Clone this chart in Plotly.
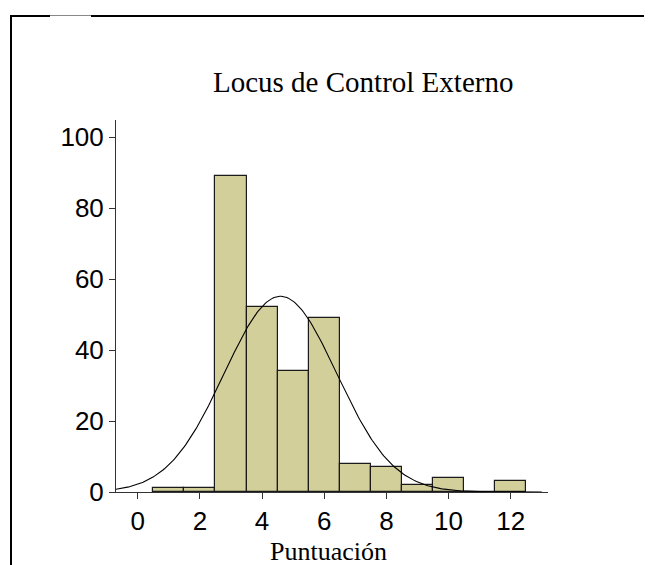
import numpy as np
import plotly.graph_objects as go

# Data
categories = [1, 2, 3, 4, 5, 6, 7, 8, 9, 10, 11, 12]
counts = [1, 1, 89, 52, 34, 49, 8, 7, 2, 4, 0, 3]
x_ticks = [0, 2, 4, 6, 8, 10, 12]
y_ticks = [0, 20, 40, 60, 80, 100]
title_text = "Locus de Control Externo"
x_title = "Puntuación"

# Fitted normal curve from the histogram data
cats = np.array(categories, dtype=float)
cnt = np.array(counts, dtype=float)
n = cnt.sum()
mean = (cats * cnt).sum() / n
sd = np.sqrt(((cats - mean) ** 2 * cnt).sum() / (n - 1))
xs = np.linspace(-0.7, 13.0, 300)
ys = n * 1.0 / (sd * np.sqrt(2 * np.pi)) * np.exp(-0.5 * ((xs - mean) / sd) ** 2)

# page body has an 8px margin; compensate so the picture lines up
OFF = 8
W, H = 652 - OFF, 565 - OFF
L, T = 116 - OFF, 120 - OFF
R = W - (548 - OFF)
B = H - (492 - OFF)
pw, ph = W - L - R, H - T - B

def px(x):
    return (x - OFF - L) / pw

def py(y):
    return (H - B - (y - OFF)) / ph

fig = go.Figure()
fig.add_trace(go.Bar(
    x=categories, y=counts, width=1.0,
    marker=dict(color="#d3cf9b", line=dict(color="#1a1a1a", width=1.2)),
    showlegend=False, hoverinfo="skip"))
fig.add_trace(go.Scatter(
    x=xs, y=ys, mode="lines", line=dict(color="black", width=1.1),
    showlegend=False, hoverinfo="skip"))

shapes = [
    dict(type="line", xref="paper", yref="paper", x0=px(11), x1=px(11), y0=py(15), y1=py(570),
         line=dict(color="black", width=2)),
    dict(type="line", xref="paper", yref="paper", x0=px(10), x1=px(700), y0=py(15.5), y1=py(15.5),
         line=dict(color="#888888", width=1)),
    dict(type="line", xref="paper", yref="paper", x0=px(10), x1=px(50), y0=py(16), y1=py(16),
         line=dict(color="black", width=2)),
    dict(type="line", xref="paper", yref="paper", x0=px(91), x1=px(700), y0=py(16), y1=py(16),
         line=dict(color="black", width=2)),
]

fig.update_layout(
    width=W, height=H,
    margin=dict(l=L, r=R, t=T, b=B),
    paper_bgcolor="white", plot_bgcolor="white",
    bargap=0,
    shapes=shapes,
    annotations=[
        dict(text=title_text, xref="paper", yref="paper", x=px(363), y=py(82),
             xanchor="center", yanchor="middle", showarrow=False,
             font=dict(family="Liberation Serif, Times New Roman, serif", size=29, color="black")),
        dict(text=x_title, xref="paper", yref="paper", x=px(328), y=py(551),
             xanchor="center", yanchor="middle", showarrow=False,
             font=dict(family="Liberation Serif, Times New Roman, serif", size=26, color="black")),
    ],
    xaxis=dict(range=[-0.7, 13.2], tickvals=x_ticks, ticks="outside", ticklen=6,
               tickcolor="#333", showline=True, linecolor="#333", linewidth=1,
               showgrid=False, zeroline=False,
               tickfont=dict(family="Liberation Sans, Arial, sans-serif", size=26, color="black")),
    yaxis=dict(range=[0, 104.8], tickvals=y_ticks, ticks="outside", ticklen=6,
               tickcolor="#333", showline=True, linecolor="#333", linewidth=1,
               showgrid=False, zeroline=False,
               tickfont=dict(family="Liberation Sans, Arial, sans-serif", size=26, color="black")),
)

fig.write_html("out.html")
